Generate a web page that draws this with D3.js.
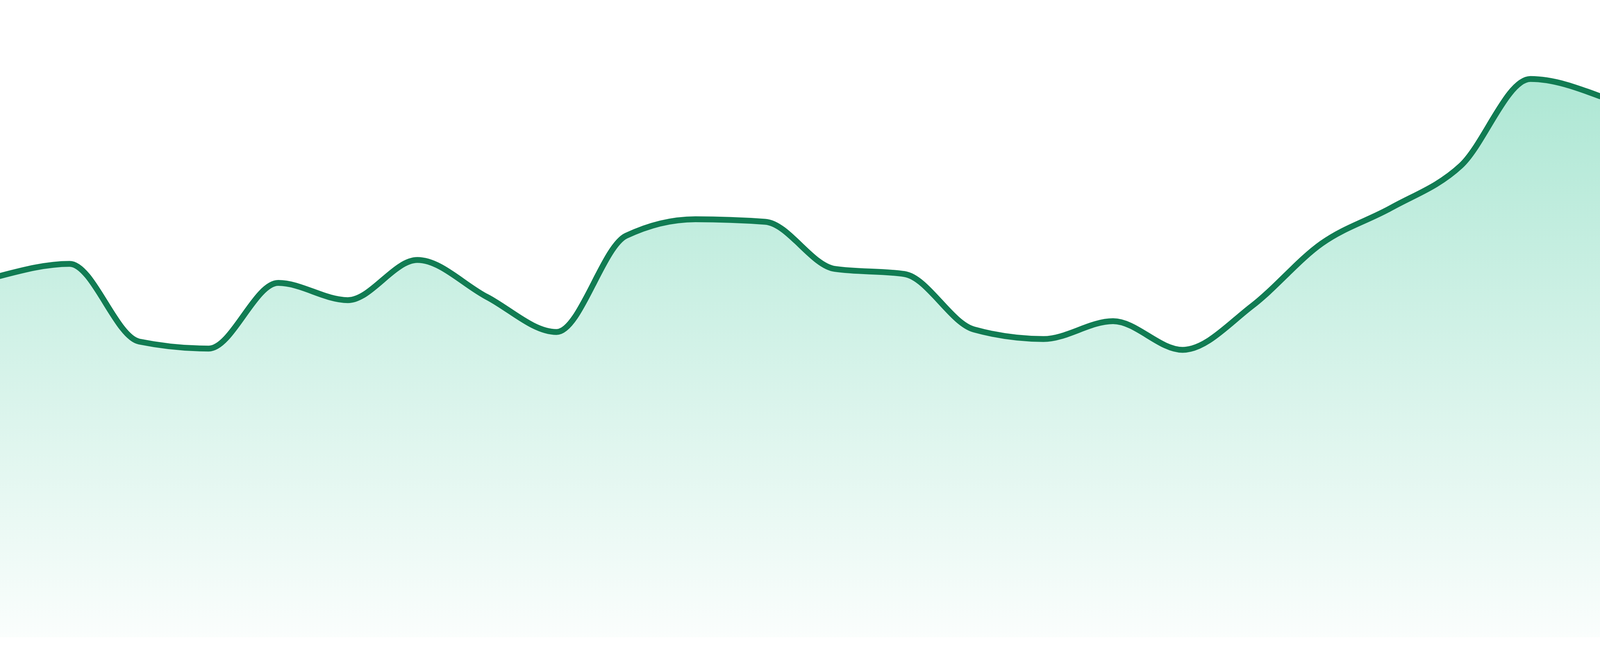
<!DOCTYPE html>
<html>
<head>
<meta charset="utf-8">
<script src="https://cdn.jsdelivr.net/npm/d3@7"></script>
<style>
  html, body { margin: 0; padding: 0; width: 100%; height: 100%; overflow: hidden; background: #fff; }
  svg { display: block; }
</style>
</head>
<body>
<div id="chart"></div>
<script>
// values, one per step
var steps = d3.range(24);
var values = [56.7, 58.6, 46.4, 45.3, 55.6, 52.9, 59.2, 53.4, 47.9, 63.0, 65.6, 65.2,
              57.8, 57.0, 48.3, 46.8, 49.6, 45.1, 52.0, 61.8, 67.4, 74.0, 87.6, 84.9];

// the window may be narrower than 4800, so fit the chart to it
var w = window.innerWidth || 4800,
    h = window.innerHeight || 1680,
    bottom = h * 48 / 1680;

var xScale = d3.scaleLinear()
    .domain([0, steps.length - 1])
    .range([0, w]);

var yScale = d3.scaleLinear()
    .domain([0, 100])
    .range([h - bottom, 0]);

var svg = d3.select("#chart")
    .append("svg")
    .attr("width", w)
    .attr("height", h);

var grad = svg.append("defs").append("linearGradient")
    .attr("id", "fade")
    .attr("gradientUnits", "userSpaceOnUse")
    .attr("x1", 0).attr("x2", 0)
    .attr("y1", yScale(d3.max(values)))
    .attr("y2", yScale(0));
grad.append("stop").attr("offset", "0%").attr("stop-color", "#10b981").attr("stop-opacity", 0.34);
grad.append("stop").attr("offset", "100%").attr("stop-color", "#10b981").attr("stop-opacity", 0.02);

var area = d3.area()
    .x(function(d, i) { return xScale(steps[i]); })
    .y0(yScale(0))
    .y1(function(d) { return yScale(d); })
    .curve(d3.curveMonotoneX);

var line = d3.line()
    .x(function(d, i) { return xScale(steps[i]); })
    .y(function(d) { return yScale(d); })
    .curve(d3.curveMonotoneX);

svg.append("path")
    .datum(values)
    .attr("fill", "url(#fade)")
    .attr("d", area);

svg.append("path")
    .datum(values)
    .attr("fill", "none")
    .attr("stroke", "#117c53")
    .attr("stroke-width", 15)
    .attr("stroke-linejoin", "round")
    .attr("stroke-linecap", "round")
    .attr("d", line);
</script>
</body>
</html>
